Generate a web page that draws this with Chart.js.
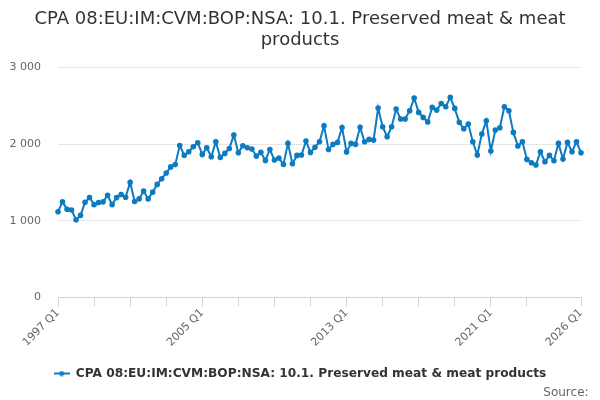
<!DOCTYPE html>
<html>
<head>
<meta charset="utf-8">
<script src="https://cdn.jsdelivr.net/npm/chart.js@4.4.1/dist/chart.umd.min.js"></script>
<style>
  html, body { margin: 0; padding: 0; background: #fff; }
  #wrap { width: 600px; height: 400px; }
</style>
</head>
<body>
<div id="wrap"><canvas id="chart"></canvas></div>
<script>
// Data, 1997 Q1 .. 2026 Q1
const startYear = 1997;
const endYear = 2026;
const values = [
    1118, 1246, 1149, 1140,   // 1997
    1013, 1070, 1241, 1303,   // 1998
    1210, 1237, 1246, 1333,   // 1999
    1210, 1303, 1342, 1307,   // 2000
    1500, 1250, 1285, 1386,   // 2001
    1285, 1373, 1474, 1548,   // 2002
    1623, 1702, 1732, 1982,   // 2003
    1855, 1899, 1965, 2018,   // 2004
    1865, 1952, 1835, 2030,   // 2005
    1826, 1878, 1943, 2117,   // 2006
    1887, 1978, 1952, 1935,   // 2007
    1843, 1891, 1787, 1930,   // 2008
    1791, 1817, 1735, 2009,   // 2009
    1743, 1852, 1857, 2039,   // 2010
    1891, 1957, 2030, 2239,   // 2011
    1930, 1996, 2022, 2217,   // 2012
    1898, 2009, 1996, 2220,   // 2013
    2030, 2061, 2052, 2470,   // 2014
    2226, 2096, 2226, 2457,   // 2015
    2326, 2326, 2435, 2600,   // 2016
    2413, 2348, 2287, 2478,   // 2017
    2443, 2530, 2487, 2609,   // 2018
    2465, 2283, 2200, 2261,   // 2019
    2030, 1857, 2130, 2304,   // 2020
    1909, 2183, 2213, 2487,   // 2021
    2435, 2152, 1974, 2030,   // 2022
    1800, 1757, 1726, 1900,   // 2023
    1770, 1852, 1783, 2009,   // 2024
    1804, 2022, 1900, 2030,   // 2025
    1887                      // 2026
];
const seriesName = 'CPA 08:EU:IM:CVM:BOP:NSA: 10.1. Preserved meat & meat products';
const titleLines = ['CPA 08:EU:IM:CVM:BOP:NSA: 10.1. Preserved meat & meat', 'products'];
const sourceText = 'Source:';
const yTicks = [0, 1000, 2000, 3000];

// build quarter labels
const labels = [];
for (let y = startYear; y <= endYear; y++) {
    for (let q = 1; q <= 4; q++) {
        if (labels.length < values.length) labels.push(y + ' Q' + q);
    }
}
const lastIndex = labels.length - 1;

const lineColor = '#0c7bc1';

// tick marks every 2 years, labels every 8 years, plus last point
function isTickMark(i) {
    return i % 8 === 0 && i < lastIndex - 4 || i === lastIndex;
}
function isLabelled(i) {
    return i % 32 === 0 || i === lastIndex;
}

// legend symbol: short line with a dot
function legendSymbol() {
    const c = document.createElement('canvas');
    c.width = 16;
    c.height = 6;
    const g = c.getContext('2d');
    g.strokeStyle = lineColor;
    g.lineWidth = 2;
    g.beginPath();
    g.moveTo(0, 3);
    g.lineTo(16, 3);
    g.stroke();
    g.fillStyle = lineColor;
    g.beginPath();
    g.arc(8, 3, 2.5, 0, Math.PI * 2);
    g.fill();
    return c;
}

const ctx = document.getElementById('chart').getContext('2d');
new Chart(ctx, {
    type: 'line',
    data: {
        labels,
        datasets: [{
            label: seriesName,
            data: values,
            borderColor: lineColor,
            backgroundColor: lineColor,
            borderWidth: 2,
            pointRadius: 1.8,
            pointHoverRadius: 3,
            pointStyle: 'circle',
            tension: 0
        }]
    },
    options: {
        responsive: true,
        maintainAspectRatio: false,
        animation: false,
        layout: {
            padding: { left: 0, right: 0, top: 0, bottom: 0 }
        },
        scales: {
            x: {
                offset: false,
                grid: {
                    drawOnChartArea: false,
                    drawTicks: true,
                    tickLength: 9,
                    color: (c) => isTickMark(c.index) ? '#ccd6eb' : 'rgba(0,0,0,0)'
                },
                border: { color: '#ccd6eb', width: 1 },
                ticks: {
                    autoSkip: false,
                    maxRotation: 45,
                    minRotation: 45,
                    padding: 0,
                    color: '#666666',
                    font: { family: 'DejaVu Sans', size: 11 },
                    callback: function (value, index) {
                        return isLabelled(index) ? labels[index] : '';
                    }
                },
                afterFit: (scale) => { scale.height = 67; }
            },
            y: {
                min: 0,
                max: 3000,
                afterBuildTicks: (scale) => {
                    scale.ticks = yTicks.map(v => ({ value: v }));
                },
                grid: {
                    color: '#e6e6e6',
                    drawTicks: false
                },
                border: { display: false },
                ticks: {
                    padding: 17,
                    color: '#666666',
                    font: { family: 'DejaVu Sans', size: 11 },
                    callback: (v) => String(v).replace(/\B(?=(\d{3})+(?!\d))/g, ' ')
                },
                afterFit: (scale) => { scale.width = 58; }
            },
            // empty spacer on the right so the plot ends where the reference does
            spacer: {
                type: 'linear',
                position: 'right',
                display: true,
                grid: { display: false },
                border: { display: false },
                ticks: { display: false },
                afterFit: (scale) => { scale.width = 19; }
            }
        },
        plugins: {
            title: {
                display: true,
                text: titleLines,
                color: '#333333',
                font: { family: 'DejaVu Sans', size: 18, weight: 'normal', lineHeight: 1.15 },
                padding: { top: 9, bottom: 17 }
            },
            legend: {
                position: 'bottom',
                labels: {
                    usePointStyle: true,
                    pointStyle: legendSymbol(),
                    pointStyleWidth: 16,
                    color: '#333333',
                    font: { family: 'DejaVu Sans', size: 12.2, weight: 'bold' },
                    padding: 3
                }
            },
            subtitle: {
                display: true,
                position: 'bottom',
                align: 'end',
                // trailing spaces keep the word off the right edge like the reference
                text: sourceText + '\u00a0\u00a0\u00a0',
                color: '#666666',
                font: { family: 'DejaVu Sans', size: 12, weight: 'normal' },
                padding: { top: -4, bottom: 0 }
            },
            tooltip: { enabled: false }
        }
    }
});
</script>
</body>
</html>
